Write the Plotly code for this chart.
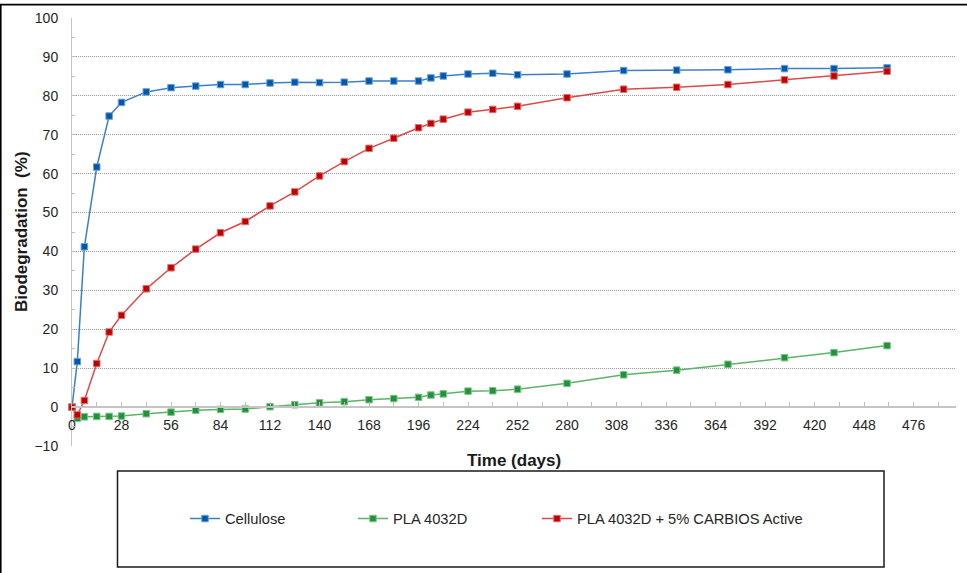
import plotly.graph_objects as go

# ---- data ----
days = [0, 3, 7, 14, 21, 28, 42, 56, 70, 84, 98, 112, 126, 140, 154, 168, 182, 196,
        203, 210, 224, 238, 252, 280, 312, 342, 371, 403, 431, 461]
cellulose = [0, 11.7, 41.2, 61.7, 74.8, 78.3, 81.0, 82.1, 82.5, 82.9, 82.9, 83.3, 83.5,
             83.4, 83.5, 83.8, 83.8, 83.8, 84.6, 85.1, 85.6, 85.8, 85.4, 85.6, 86.5,
             86.6, 86.7, 87.0, 87.0, 87.2]
pla = [0, -2.9, -2.5, -2.4, -2.4, -2.3, -1.7, -1.3, -0.8, -0.6, -0.5, 0.1, 0.6, 1.1,
       1.4, 1.9, 2.2, 2.5, 3.1, 3.4, 4.1, 4.2, 4.6, 6.1, 8.3, 9.5, 11.0, 12.7, 14.0, 15.8]
pla_carbios = [0, -2.0, 1.7, 11.2, 19.3, 23.6, 30.4, 35.8, 40.6, 44.8, 47.7, 51.7, 55.3,
               59.4, 63.1, 66.5, 69.1, 71.8, 72.9, 74.0, 75.8, 76.5, 77.3, 79.5, 81.7,
               82.2, 82.9, 84.1, 85.1, 86.3]
series_names = ["Cellulose", "PLA 4032D", "PLA 4032D + 5% CARBIOS Active"]
x_title = "Time (days)"
y_title = "Biodegradation  (%)"

FONT = "Liberation Sans, Arial, sans-serif"
W, H = 967, 573
ML, MR, MT, MB = 72, 11, 18, 127
PW, PH = W - ML - MR, H - MT - MB


def px_x(x):
    return (x - ML) / PW


def px_y(y):
    return (H - MB - y) / PH


styles = [
    dict(line="#3f7fc9", marker="#0058A8", edge="#6d9fd8"),
    dict(line="#5db36a", marker="#23913B", edge="#7cc486"),
    dict(line="#d94b4b", marker="#C00000", edge="#e07070"),
]
legend_ids = ["legend", "legend2", "legend3"]
legend_text_starts = [225, 393, 577]  # pixel x where each legend label begins

fig = go.Figure()
for name, vals, st, lid in zip(series_names, [cellulose, pla, pla_carbios], styles, legend_ids):
    fig.add_trace(go.Scatter(
        x=days, y=vals, name=name, mode="lines+markers", legend=lid,
        cliponaxis=False,
        line=dict(color=st["line"], width=1.5),
        marker=dict(symbol="square", size=6.5, color=st["marker"],
                    line=dict(color=st["edge"], width=1)),
    ))

legend_common = dict(
    orientation="h", xanchor="left", yanchor="middle", y=px_y(519),
    bgcolor="rgba(0,0,0,0)", borderwidth=0,
    font=dict(family=FONT, size=14.7, color="#262626"),
)
legend_layout = {}
for lid, tx in zip(legend_ids, legend_text_starts):
    legend_layout[lid] = dict(legend_common, x=px_x(tx - 40))

fig.update_layout(
    width=W, height=H,
    margin=dict(l=ML, r=MR, t=MT, b=MB),
    paper_bgcolor="white", plot_bgcolor="white",
    font=dict(family=FONT, size=14, color="#262626"),
    showlegend=True,
    **legend_layout,
    xaxis=dict(
        range=[0, 500], tick0=0, dtick=28,
        anchor="free", position=10 / 110,
        showgrid=False, zeroline=False,
        showline=True, linecolor="#c4c4c4", linewidth=1.5,
        ticks="inside", ticklen=4, tickcolor="#bfbfbf",
        minor=dict(dtick=14, ticks="inside", ticklen=4, tickcolor="#bfbfbf"),
        tickfont=dict(family=FONT, size=14, color="#262626"),
        ticklabelstandoff=5,
    ),
    yaxis=dict(
        range=[-10, 100], tick0=0, dtick=10,
        showgrid=True, gridcolor="#9a9a9a", gridwidth=1, griddash="1px,1px",
        zeroline=False,
        showline=True, linecolor="#c4c4c4", linewidth=1,
        ticks="inside", ticklen=4, tickcolor="#bfbfbf",
        minor=dict(dtick=5, ticks="inside", ticklen=3, tickcolor="#bfbfbf", showgrid=False),
        tickfont=dict(family=FONT, size=14, color="#262626"),
        ticklabelstandoff=10,
    ),
    annotations=[
        dict(text=f"<b>{x_title}</b>", xref="paper", yref="paper",
             x=0.5, y=px_y(460), xanchor="center", yanchor="middle",
             showarrow=False, font=dict(family=FONT, size=17, color="#1a1a1a")),
        dict(text=f"<b>{y_title}</b>", xref="paper", yref="paper",
             x=px_x(21), y=0.5, xanchor="center", yanchor="middle", textangle=-90,
             showarrow=False, font=dict(family=FONT, size=17, color="#1a1a1a")),
    ],
    shapes=[
        # legend frame
        dict(type="rect", xref="paper", yref="paper",
             x0=px_x(117.5), x1=px_x(884), y0=px_y(471), y1=px_y(567),
             line=dict(color="#1a1a1a", width=1.5), fillcolor="rgba(0,0,0,0)", layer="below"),
        # outer chart frame
        dict(type="rect", xref="paper", yref="paper",
             x0=px_x(0.8), x1=px_x(975), y0=px_y(4.6), y1=px_y(580),
             line=dict(color="#000000", width=1.6), fillcolor="rgba(0,0,0,0)", layer="below"),
    ],
)

fig.write_html(
    "out.html",
    config={"displayModeBar": False},
    post_script="document.body.style.margin='0';document.body.style.overflow='hidden';",
)
